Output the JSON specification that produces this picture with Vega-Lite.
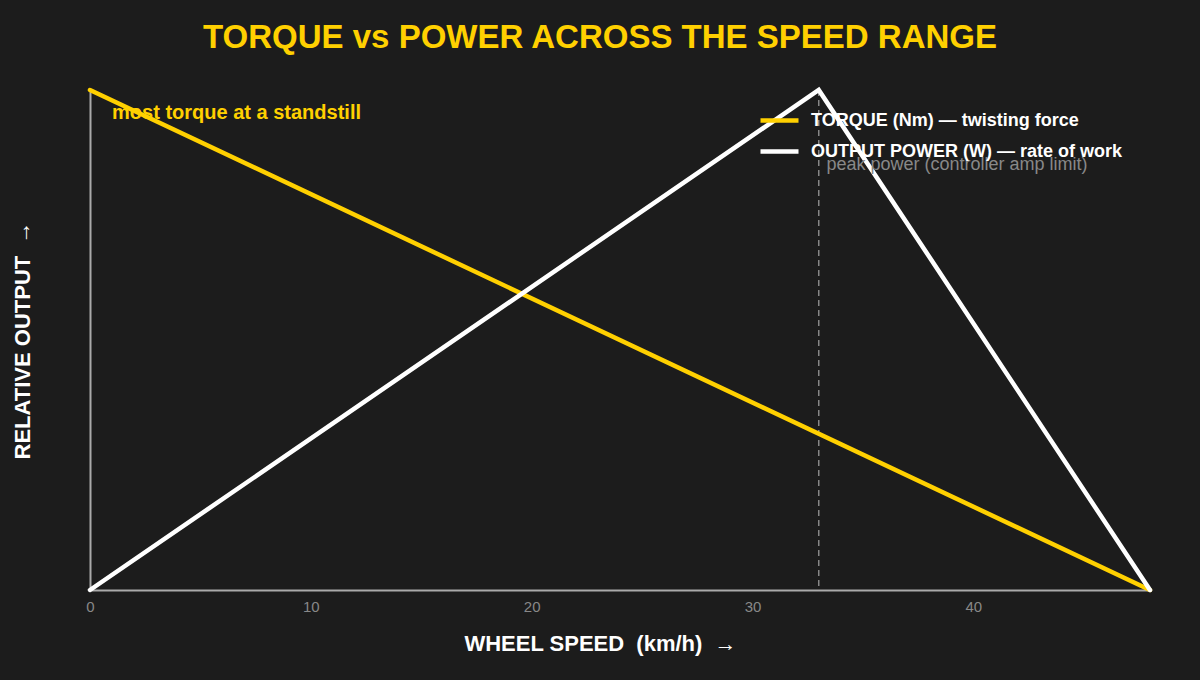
{
  "$schema": "https://vega.github.io/schema/vega-lite/v6.json",
  "width": 1060,
  "height": 500,
  "autosize": "none",
  "padding": {"left": 90, "top": 90, "right": 50, "bottom": 90},
  "background": "#1c1c1c",
  "config": {"view": {"stroke": null}, "font": "Liberation Sans"},
  "title": {
    "text": "TORQUE vs POWER ACROSS THE SPEED RANGE",
    "color": "#FFD000",
    "font": "Liberation Sans",
    "fontSize": 33,
    "fontWeight": 900,
    "anchor": "middle",
    "dx": -20,
    "offset": 26
  },
  "datasets": {
    "curves": [
      {"speed": 0, "value": 1, "series": "TORQUE (Nm) — twisting force"},
      {"speed": 48, "value": 0, "series": "TORQUE (Nm) — twisting force"},
      {"speed": 0, "value": 0, "series": "OUTPUT POWER (W) — rate of work"},
      {"speed": 33, "value": 1, "series": "OUTPUT POWER (W) — rate of work"},
      {"speed": 48, "value": 0, "series": "OUTPUT POWER (W) — rate of work"}
    ],
    "peak": [{"speed": 33}],
    "torqueNote": [{"speed": 1, "value": 0.954, "label": "most torque at a standstill"}],
    "peakNote": [{"speed": 33.35, "value": 0.85, "label": "peak power (controller amp limit)"}]
  },
  "layer": [
    {
      "data": {"name": "peak"},
      "mark": {"type": "rule", "color": "#888888", "strokeDash": [6, 4], "strokeWidth": 1.5},
      "encoding": {"x": {"field": "speed", "type": "quantitative", "scale": {"domain": [0, 48]}}}
    },
    {
      "data": {"name": "curves"},
      "mark": {"type": "line", "strokeWidth": 4.5, "strokeCap": "round", "strokeJoin": "miter"},
      "encoding": {
        "x": {
          "field": "speed",
          "type": "quantitative",
          "scale": {"domain": [0, 48], "nice": false, "zero": false},
          "axis": {
            "values": [0, 10, 20, 30, 40],
            "title": "WHEEL SPEED\u00a0\u00a0(km/h)\u00a0\u00a0→",
            "titleColor": "#ffffff",
            "titleFontSize": 22,
            "titleFontWeight": "bold",
            "titleFont": "Liberation Sans",
            "titleX": 510,
            "titleY": 60,
            "titleBaseline": "alphabetic",
            "labelColor": "#888888",
            "labelFontSize": 15,
            "labelPadding": 9,
            "labelFlush": false,
            "ticks": false,
            "grid": false,
            "domainColor": "#aaaaaa",
            "domainWidth": 2
          }
        },
        "y": {
          "field": "value",
          "type": "quantitative",
          "scale": {"domain": [0, 1], "nice": false},
          "axis": {
            "title": "RELATIVE OUTPUT\u00a0\u00a0→",
            "titleColor": "#ffffff",
            "titleFontSize": 22,
            "titleFontWeight": "bold",
            "titleFont": "Liberation Sans",
            "titleX": -56,
            "titleY": 250,
            "labels": false,
            "ticks": false,
            "grid": false,
            "domainColor": "#aaaaaa",
            "domainWidth": 2
          }
        },
        "color": {
          "field": "series",
          "type": "nominal",
          "scale": {
            "domain": ["TORQUE (Nm) — twisting force", "OUTPUT POWER (W) — rate of work"],
            "range": ["#FFD000", "#ffffff"]
          },
          "legend": {
            "orient": "none",
            "legendX": 668,
            "legendY": 9,
            "title": null,
            "symbolType": "stroke",
            "symbolStrokeWidth": 4.5,
            "symbolSize": 1444,
            "labelColor": "#ffffff",
            "labelFontSize": 18,
            "labelFontWeight": "bold",
            "labelFont": "Liberation Sans",
            "labelOffset": 10,
            "rowPadding": -11,
            "labelLimit": 400
          }
        }
      }
    },
    {
      "data": {"name": "torqueNote"},
      "mark": {"type": "text", "align": "left", "baseline": "middle", "font": "Liberation Sans", "fontSize": 20, "fontWeight": "bold", "color": "#FFD000"},
      "encoding": {
        "x": {"field": "speed", "type": "quantitative"},
        "y": {"field": "value", "type": "quantitative"},
        "text": {"field": "label"}
      }
    },
    {
      "data": {"name": "peakNote"},
      "mark": {"type": "text", "align": "left", "baseline": "middle", "font": "Liberation Sans", "fontSize": 18, "fontWeight": "normal", "color": "#888888"},
      "encoding": {
        "x": {"field": "speed", "type": "quantitative"},
        "y": {"field": "value", "type": "quantitative"},
        "text": {"field": "label"}
      }
    }
  ]
}
